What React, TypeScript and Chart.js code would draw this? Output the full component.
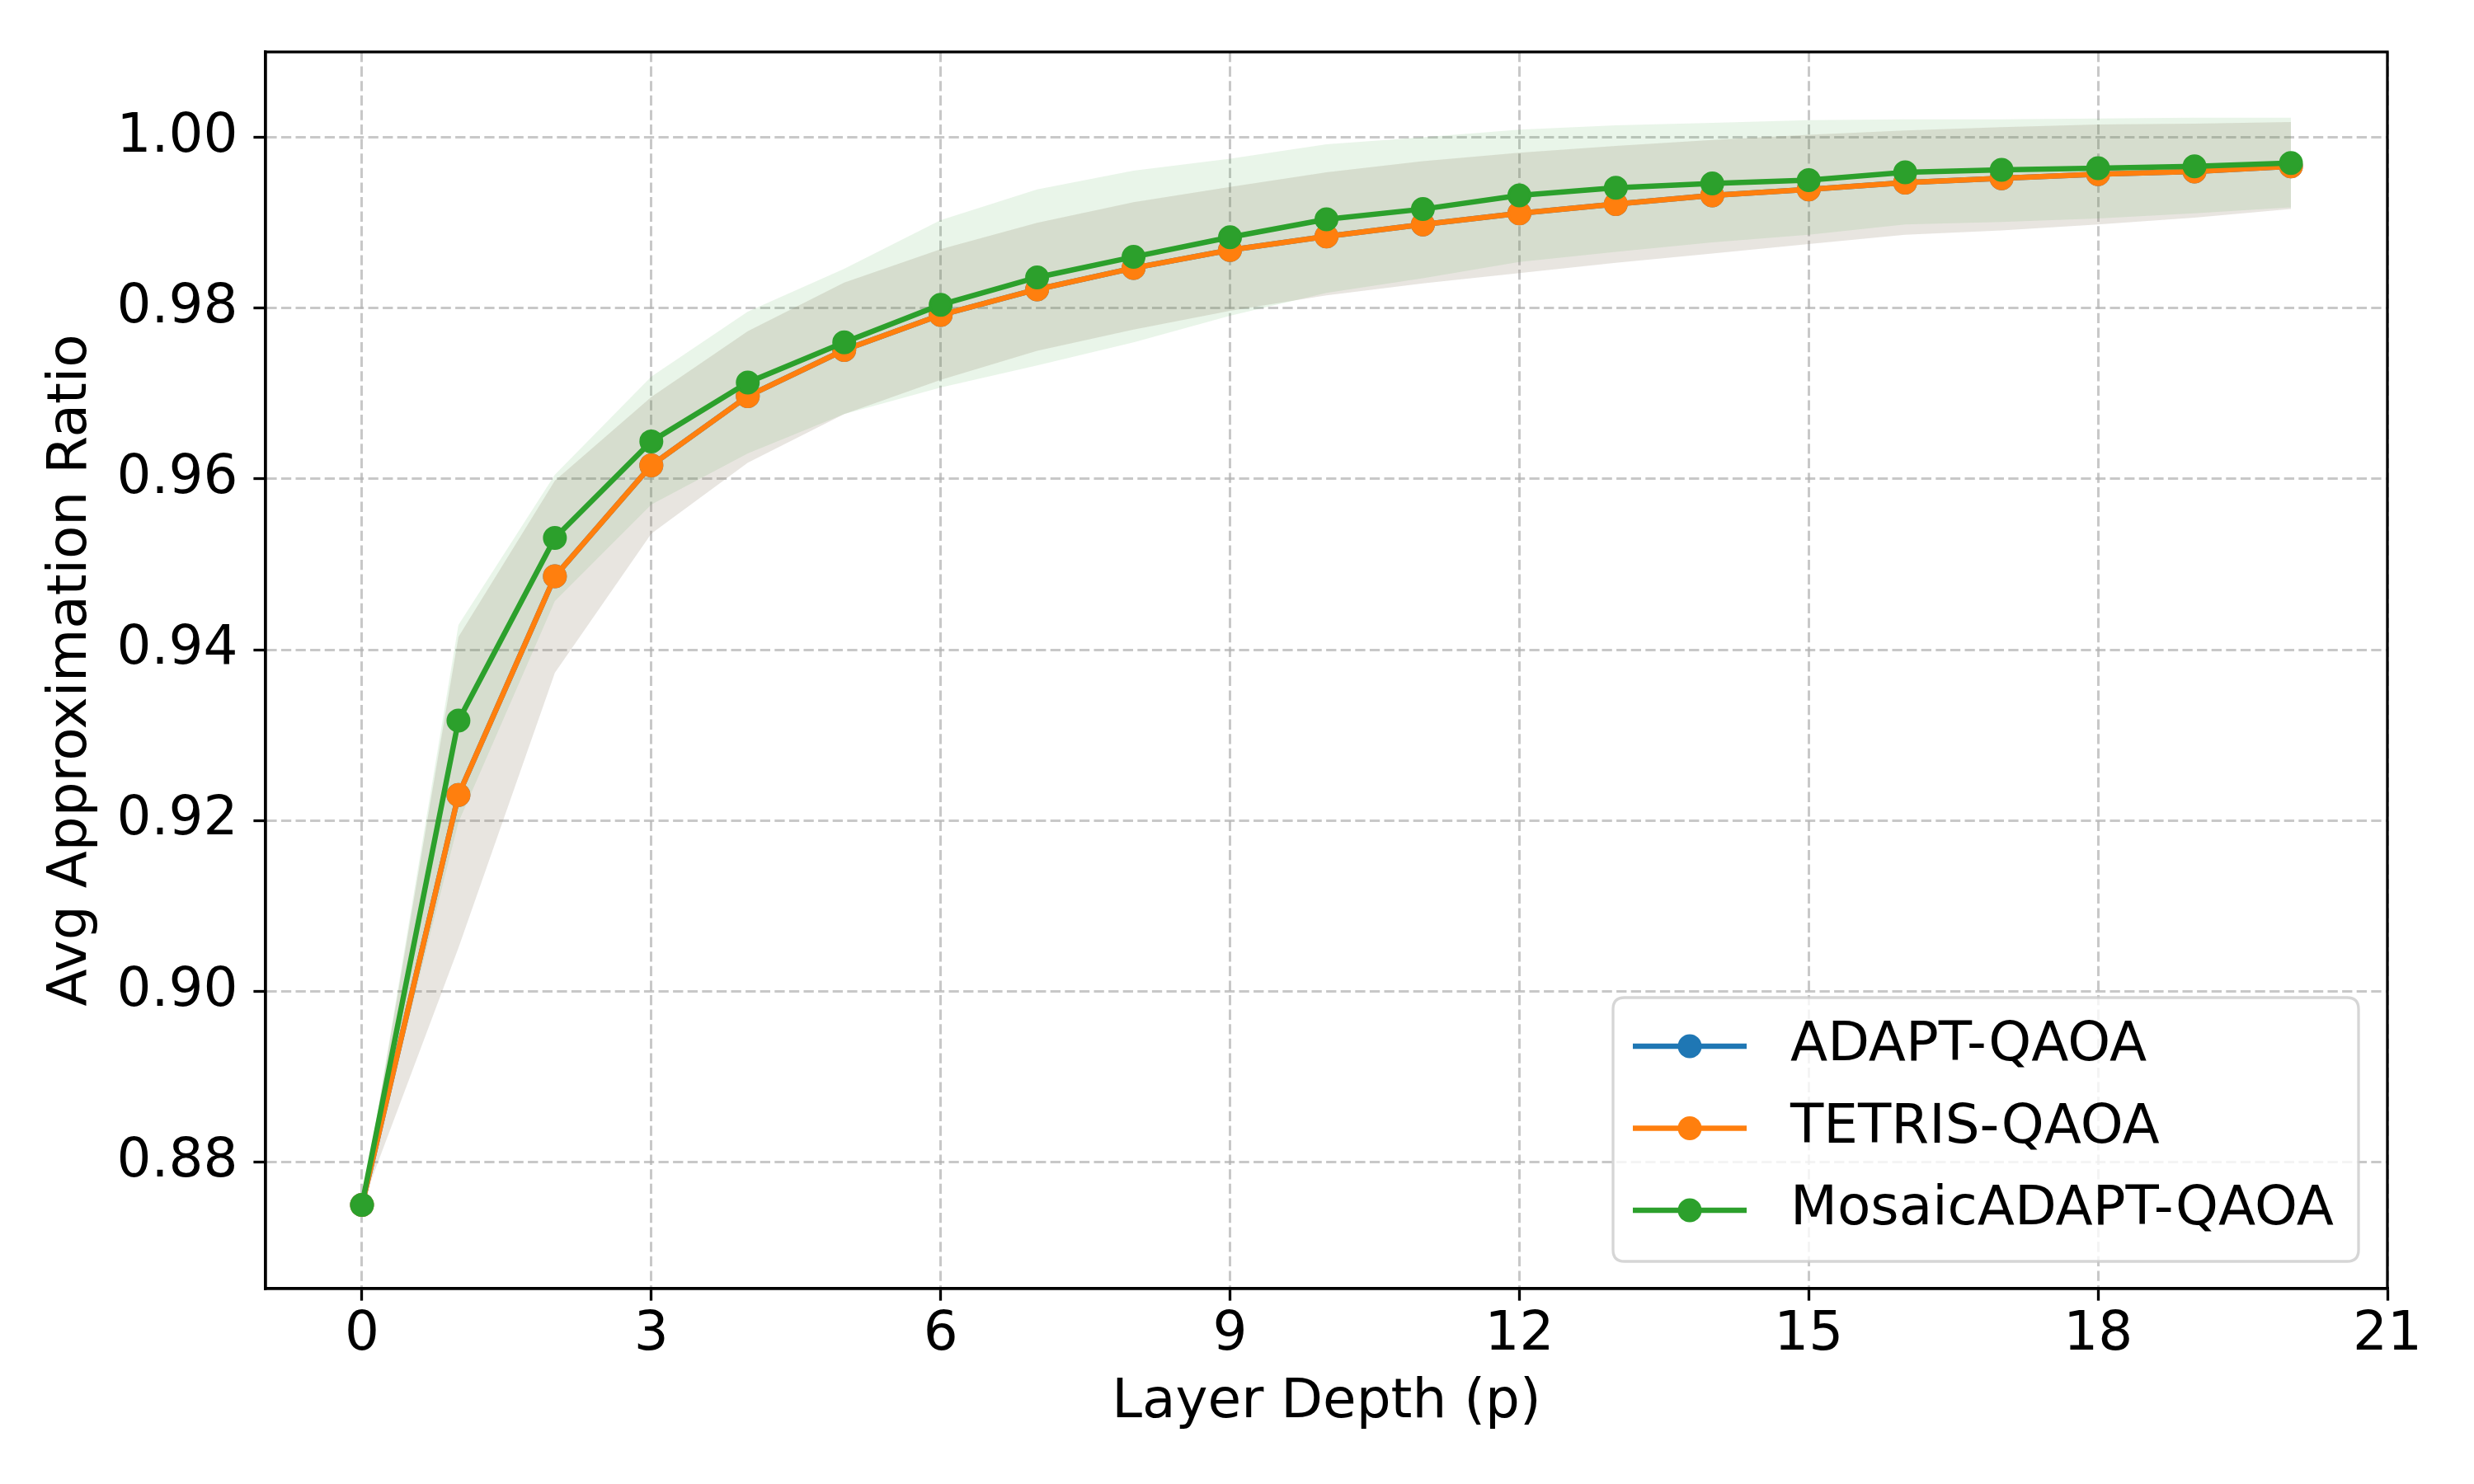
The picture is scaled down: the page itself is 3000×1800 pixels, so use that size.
import React, { useEffect, useRef } from 'react';
import { Chart, registerables } from 'chart.js';

Chart.register(...registerables);

// ---- data ----
const layerDepth = [0, 1, 2, 3, 4, 5, 6, 7, 8, 9, 10, 11, 12, 13, 14, 15, 16, 17, 18, 19, 20];

const adaptMean = [0.875, 0.9230, 0.9486, 0.9616, 0.9697, 0.9751, 0.9792, 0.9822, 0.9847, 0.9868, 0.9884, 0.9898, 0.9911, 0.9922, 0.9932, 0.9939, 0.9947, 0.9952, 0.9957, 0.9960, 0.9966];
const adaptUpper = [0.875, 0.9415, 0.9598, 0.9696, 0.9773, 0.9830, 0.9869, 0.9900, 0.9924, 0.9942, 0.9959, 0.9972, 0.9982, 0.9990, 0.9997, 1.0003, 1.0008, 1.0012, 1.0015, 1.0016, 1.0018];
const adaptLower = [0.875, 0.9051, 0.9373, 0.9536, 0.9619, 0.9676, 0.9716, 0.9750, 0.9775, 0.9797, 0.9815, 0.9829, 0.9841, 0.9853, 0.9864, 0.9875, 0.9886, 0.9891, 0.9898, 0.9906, 0.9916];

const tetrisMean = [0.875, 0.9230, 0.9486, 0.9616, 0.9697, 0.9751, 0.9792, 0.9822, 0.9847, 0.9868, 0.9884, 0.9898, 0.9911, 0.9922, 0.9932, 0.9939, 0.9947, 0.9952, 0.9957, 0.9960, 0.9966];
const tetrisUpper = [0.875, 0.9415, 0.9598, 0.9696, 0.9773, 0.9830, 0.9869, 0.9900, 0.9924, 0.9942, 0.9959, 0.9972, 0.9982, 0.9990, 0.9997, 1.0003, 1.0008, 1.0012, 1.0015, 1.0016, 1.0018];
const tetrisLower = [0.875, 0.9051, 0.9373, 0.9536, 0.9619, 0.9676, 0.9716, 0.9750, 0.9775, 0.9797, 0.9815, 0.9829, 0.9841, 0.9853, 0.9864, 0.9875, 0.9886, 0.9891, 0.9898, 0.9906, 0.9916];

const mosaicMean = [0.875, 0.9317, 0.9531, 0.9644, 0.9713, 0.9760, 0.9804, 0.9836, 0.9860, 0.9883, 0.9904, 0.9916, 0.9932, 0.9941, 0.9946, 0.9950, 0.9959, 0.9962, 0.9964, 0.9966, 0.9970];
const mosaicUpper = [0.875, 0.9429, 0.9605, 0.9720, 0.9796, 0.9846, 0.9903, 0.9939, 0.9961, 0.9975, 0.9992, 1.0000, 1.0009, 1.0014, 1.0017, 1.0020, 1.0021, 1.0021, 1.0022, 1.0023, 1.0023];
const mosaicLower = [0.875, 0.9198, 0.9457, 0.9570, 0.9630, 0.9676, 0.9707, 0.9733, 0.9760, 0.9791, 0.9818, 0.9835, 0.9854, 0.9866, 0.9877, 0.9886, 0.9898, 0.9901, 0.9905, 0.9911, 0.9918];

const seriesLabels = ['ADAPT-QAOA', 'TETRIS-QAOA', 'MosaicADAPT-QAOA'];
const xTicks = [0, 3, 6, 9, 12, 15, 18, 21];
const yTicks = [0.88, 0.90, 0.92, 0.94, 0.96, 0.98, 1.00];
const xTitle = 'Layer Depth (p)';
const yTitle = 'Avg Approximation Ratio';

// ---- styles ----
const BLUE = '#1f77b4';
const ORANGE = '#ff7f0e';
const GREEN = '#2ca02c';
const FONT = 'DejaVu Sans';
const FS = 66;
const GRID = 'rgba(176,176,176,0.7)';

const pts = (ys: number[]) => layerDepth.map((x, i) => ({ x, y: ys[i] }));

const frameLegendPlugin = {
  id: 'frameLegend',
  afterDraw(chart: any) {
    const { ctx, chartArea: a } = chart;
    ctx.save();
    ctx.setLineDash([]);
    ctx.strokeStyle = '#000';
    ctx.lineWidth = 3.3;
    ctx.strokeRect(a.left, a.top, a.right - a.left, a.bottom - a.top);

    // legend
    const bw = 904, bh = 320;
    const bx = a.right - 35 - bw;
    const by = a.bottom - 33 - bh;
    const r = 14;
    ctx.beginPath();
    ctx.moveTo(bx + r, by);
    ctx.lineTo(bx + bw - r, by);
    ctx.quadraticCurveTo(bx + bw, by, bx + bw, by + r);
    ctx.lineTo(bx + bw, by + bh - r);
    ctx.quadraticCurveTo(bx + bw, by + bh, bx + bw - r, by + bh);
    ctx.lineTo(bx + r, by + bh);
    ctx.quadraticCurveTo(bx, by + bh, bx, by + bh - r);
    ctx.lineTo(bx, by + r);
    ctx.quadraticCurveTo(bx, by, bx + r, by);
    ctx.closePath();
    ctx.fillStyle = 'rgba(255,255,255,0.8)';
    ctx.fill();
    ctx.strokeStyle = 'rgba(204,204,204,0.8)';
    ctx.lineWidth = 3.3;
    ctx.stroke();

    const lineSets = chart.data.datasets.filter((d: any) => d.isSeries);
    lineSets.forEach((d: any, i: number) => {
      const cy = by + 59 + i * 99.5;
      ctx.strokeStyle = d.borderColor;
      ctx.lineWidth = 6.5;
      ctx.beginPath();
      ctx.moveTo(bx + 24, cy);
      ctx.lineTo(bx + 162, cy);
      ctx.stroke();
      ctx.fillStyle = d.borderColor;
      ctx.beginPath();
      ctx.arc(bx + 93, cy, 14.5, 0, Math.PI * 2);
      ctx.fill();
      ctx.fillStyle = '#000';
      ctx.font = `${FS}px "${FONT}"`;
      ctx.textAlign = 'left';
      ctx.textBaseline = 'middle';
      ctx.fillText(d.label, bx + 215, cy);
    });
    ctx.restore();
  },
};

export default function App() {
  const ref = useRef<HTMLCanvasElement>(null);

  useEffect(() => {
    const canvas = ref.current!;
    const band = (upper: number[], lower: number[], color: string, name: string) => [
      {
        label: name + ' upper',
        data: pts(upper),
        borderColor: 'rgba(0,0,0,0)',
        backgroundColor: 'rgba(0,0,0,0)',
        borderWidth: 0,
        pointRadius: 0,
        fill: false,
        order: 10,
      },
      {
        label: name + ' lower',
        data: pts(lower),
        borderColor: 'rgba(0,0,0,0)',
        backgroundColor: color,
        borderWidth: 0,
        pointRadius: 0,
        fill: '-1',
        order: 10,
      },
    ];
    const series = (label: string, ys: number[], color: string, order: number) => ({
      label,
      isSeries: true,
      data: pts(ys),
      borderColor: color,
      backgroundColor: color,
      borderWidth: 6.5,
      pointRadius: 13,
      pointBorderWidth: 3,
      pointBackgroundColor: color,
      pointBorderColor: color,
      fill: false,
      tension: 0,
      order,
    });

    const chart = new Chart(canvas, {
      type: 'line',
      data: {
        datasets: [
          ...band(adaptUpper, adaptLower, 'rgba(31,119,180,0.1)', 'adapt'),
          ...band(tetrisUpper, tetrisLower, 'rgba(255,127,14,0.1)', 'tetris'),
          ...band(mosaicUpper, mosaicLower, 'rgba(44,160,44,0.1)', 'mosaic'),
          series(seriesLabels[0], adaptMean, BLUE, 3),
          series(seriesLabels[1], tetrisMean, ORANGE, 2),
          series(seriesLabels[2], mosaicMean, GREEN, 1),
        ] as any,
      },
      options: {
        responsive: false,
        animation: false,
        devicePixelRatio: 1,
        events: [],
        layout: { padding: { left: 0, right: 105, top: 63, bottom: 0 } },
        plugins: {
          legend: { display: false },
          tooltip: { enabled: false },
          filler: { drawTime: 'beforeDatasetsDraw' },
        } as any,
        scales: {
          x: {
            type: 'linear',
            min: -1,
            max: 21,
            afterBuildTicks: (s: any) => {
              s.ticks = xTicks.map((v) => ({ value: v }));
            },
            afterFit: (s: any) => {
              s.height = 237;
            },
            ticks: {
              color: '#000',
              font: { family: FONT, size: FS },
              padding: 3,
              maxRotation: 0,
              autoSkip: false,
              callback: (v: any) => String(v),
            },
            grid: {
              color: GRID,
              lineWidth: 3,
              drawTicks: true,
              tickLength: 14.6,
              tickWidth: 3.3,
              tickColor: '#000',
              tickBorderDash: [],
            },
            border: { display: true, color: '#000', width: 3.3, dash: [12.3, 5.3] },
            title: {
              display: true,
              text: xTitle,
              color: '#000',
              font: { family: FONT, size: FS },
              padding: { top: 0, bottom: 59 },
            },
          },
          y: {
            type: 'linear',
            min: 0.8652,
            max: 1.01,
            afterBuildTicks: (s: any) => {
              s.ticks = yTicks.map((v) => ({ value: v }));
            },
            afterFit: (s: any) => {
              s.width = 322;
            },
            ticks: {
              color: '#000',
              font: { family: FONT, size: FS },
              padding: 19,
              autoSkip: false,
              callback: (v: any) => Number(v).toFixed(2),
            },
            grid: {
              color: GRID,
              lineWidth: 3,
              drawTicks: true,
              tickLength: 14.6,
              tickWidth: 3.3,
              tickColor: '#000',
              tickBorderDash: [],
            },
            border: { display: true, color: '#000', width: 3.3, dash: [12.3, 5.3] },
            title: {
              display: true,
              text: yTitle,
              color: '#000',
              font: { family: FONT, size: FS },
              padding: { top: 47, bottom: 0 },
            },
          },
        },
      } as any,
      plugins: [frameLegendPlugin],
    });
    return () => chart.destroy();
  }, []);

  return (
    <div style={{ position: 'absolute', left: 0, top: 0, width: 3000, height: 1800, background: '#fff' }}>
      <canvas ref={ref} width={3000} height={1800} style={{ width: 3000, height: 1800, display: 'block' }} />
    </div>
  );
}
